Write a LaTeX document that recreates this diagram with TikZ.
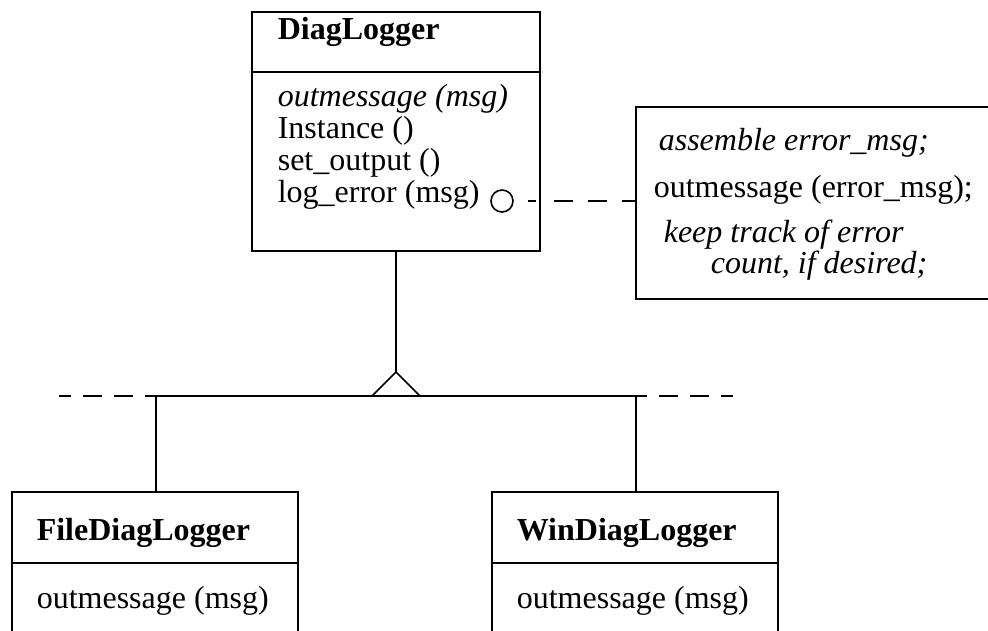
\documentclass[tikz,border=0pt]{standalone}
\usepackage{fontspec}
\setmainfont{Liberation Serif}
\begin{document}
\begin{tikzpicture}[x=1pt,y=-1pt,
    line width=1.6pt,
    classbox/.style={draw, rectangle, inner sep=0pt},
    notebox/.style={draw, rectangle, inner sep=0pt},
    txt/.style={inner sep=0pt, anchor=base west, font=\fontsize{32}{32}\selectfont},
    itxt/.style={txt, font=\fontsize{32}{32}\selectfont\itshape},
    btxt/.style={txt, font=\fontsize{32}{32}\selectfont\bfseries},
    ext/.style={dash pattern=on 19pt off 12pt, dash phase=8pt},
    notelink/.style={dash pattern=on 0pt off 14pt on 8pt off 18pt on 19pt off 15pt on 19pt off 15pt on 19pt off 5pt}]
\useasboundingbox (0,0) rectangle (988,631);
\clip (0,0) rectangle (988,631);

% base class
\node[classbox, minimum width=288pt, minimum height=239pt] (diag) at (396,131.5) {};
\draw (252,72) -- (540,72);
\node[btxt] (diagname) at (277,40) {DiagLogger};
\node[itxt] (m1) at (277,107) {outmessage (msg)};
\node[txt] (m2) at (277,139) {Instance ()};
\node[txt] (m3) at (277,171) {set\_output ()};
\node[txt] (m4) at (277,203) {log\_error (msg)};
\node[circle, draw, minimum size=22pt, inner sep=0pt] (knob) at (502,201) {};

% note attached to log_error
\node[notebox, minimum width=356pt, minimum height=192pt] (note) at (814,203) {};
\node[itxt] (n1) at (658,151) {assemble error\_msg;};
\node[txt] (n2) at (653,198) {outmessage (error\_msg);};
\node[itxt] (n3) at (663,243) {keep track of error};
\node[itxt] (n4) at (710,273) {count, if desired;};
\draw[notelink] (knob.east) -- (note.west |- knob.east);

% subclasses
\node[classbox, minimum width=286pt, minimum height=160pt] (file) at (155,572) {};
\draw (12,563) -- (298,563);
\node[btxt] (filename) at (36,540) {FileDiagLogger};
\node[txt] (f1) at (36,608) {outmessage (msg)};

\node[classbox, minimum width=286pt, minimum height=160pt] (win) at (635,572) {};
\draw (492,563) -- (778,563);
\node[btxt] (winname) at (516,540) {WinDiagLogger};
\node[txt] (w1) at (516,608) {outmessage (msg)};

% inheritance tree
\coordinate (apex) at (396,372);
\coordinate (bl) at (372,396);
\coordinate (br) at (420,396);
\coordinate (jl) at (156,396);
\coordinate (jr) at (636,396);
\coordinate (el) at (59,396);
\coordinate (er) at (733,396);
\draw (diag.south) -- (apex);
\draw[line join=miter] (bl) -- (apex) -- (br);
\draw (jl) -- (jr);
\draw (jl) -- (file.north -| jl);
\draw (jr) -- (win.north -| jr);
\draw[ext] (jl) -- (el);
\draw[ext] (jr) -- (er);
\end{tikzpicture}
\end{document}
